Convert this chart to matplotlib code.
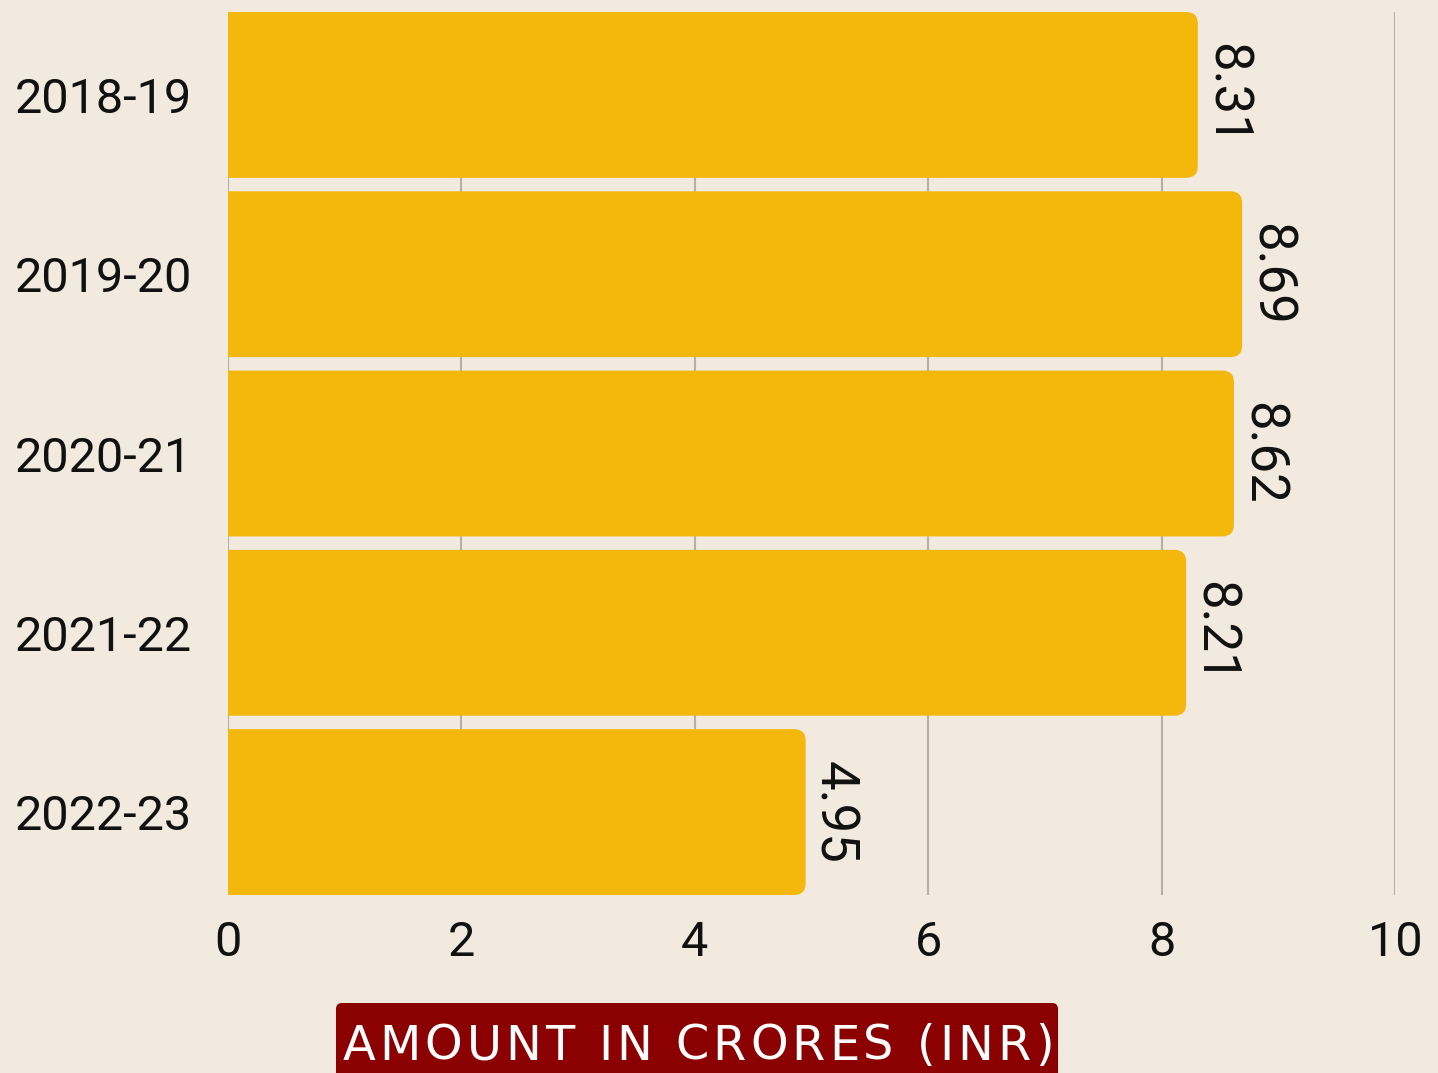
import numpy as np
import matplotlib.pyplot as plt
from matplotlib.patches import FancyBboxPatch

years = ["2018-19", "2019-20", "2020-21", "2021-22", "2022-23"]
amounts = [8.31, 8.69, 8.62, 8.21, 4.95]
xticks = [0, 2, 4, 6, 8, 10]
xlabel = "AMOUNT IN CRORES (INR)"

BG = '#F2EADF'
BAR = '#F4B70C'
GRID = '#B5AFA7'
LABEL_BG = '#8B0000'
W, H = 1438, 1073

plt.rcParams['font.family'] = ['Roboto', 'DejaVu Sans']

fig = plt.figure(figsize=(W / 100, H / 100), dpi=100, facecolor=BG)
ax = fig.add_axes([228 / W, 1 - 895 / H, (1395 - 228) / W, (895 - 12) / H])
ax.set_facecolor(BG)

y = np.arange(len(years))
h = 0.925
bars = ax.barh(y, amounts, height=h, color=BAR, zorder=2)

# swap plain rectangles for ones with rounded right corners
for rect in bars:
    x0, y0 = rect.get_x(), rect.get_y()
    w, hh = rect.get_width(), rect.get_height()
    rect.set_visible(False)
    p = FancyBboxPatch((x0 - 0.3, y0), w + 0.3, hh,
                       boxstyle="round,pad=0,rounding_size=0.1",
                       mutation_aspect=0.65, fc=BAR, ec='none', zorder=2)
    ax.add_patch(p)

for yi, v in zip(y, amounts):
    ax.annotate(f"{v:.2f}", xy=(v, yi), xytext=(2, 0), textcoords='offset points',
                rotation=270, ha='left', va='center', fontsize=38, color='#111111')

ax.set_xlim(0, 10)
ax.set_ylim(len(years) - 1 + h / 2, -h / 2)
ax.set_xticks(xticks)
ax.set_xticklabels([str(t) for t in xticks])
ax.set_yticks(y)
ax.set_yticklabels(years)
ax.tick_params(axis='both', length=0, labelsize=35, colors='#111111')
ax.tick_params(axis='y', pad=26)
ax.tick_params(axis='x', pad=18)

ax.xaxis.grid(True, color=GRID, linewidth=1.5, zorder=0)
ax.set_axisbelow(True)
for s in ax.spines.values():
    s.set_visible(False)

# x-axis title: dark red tab at the bottom with letter-spaced white text
box = FancyBboxPatch((336, -20), 1058 - 336, (H - 1003) + 20,
                     boxstyle="round,pad=0,rounding_size=6",
                     fc=LABEL_BG, ec='none', transform=None, zorder=1)
fig.patches.append(box)

renderer = fig.canvas.get_renderer()
lab_fs = 34.5
track = 4.0


def text_w(s):
    t = fig.text(0, 0, s + 'I', fontsize=lab_fs, family='DejaVu Sans')
    w1 = t.get_window_extent(renderer).width
    t.remove()
    t = fig.text(0, 0, 'I', fontsize=lab_fs, family='DejaVu Sans')
    w2 = t.get_window_extent(renderer).width
    t.remove()
    return w1 - w2


total = text_w(xlabel) + track * (len(xlabel) - 1)
start = 698 - total / 2
for i, ch in enumerate(xlabel):
    if ch == ' ':
        continue
    xp = start + text_w(xlabel[:i]) + track * i
    fig.text(xp / W, 1 - 1060 / H, ch, fontsize=lab_fs, family='DejaVu Sans',
             color='white', ha='left', va='baseline', zorder=3)

fig.savefig('out.png', dpi=100, facecolor=BG)
